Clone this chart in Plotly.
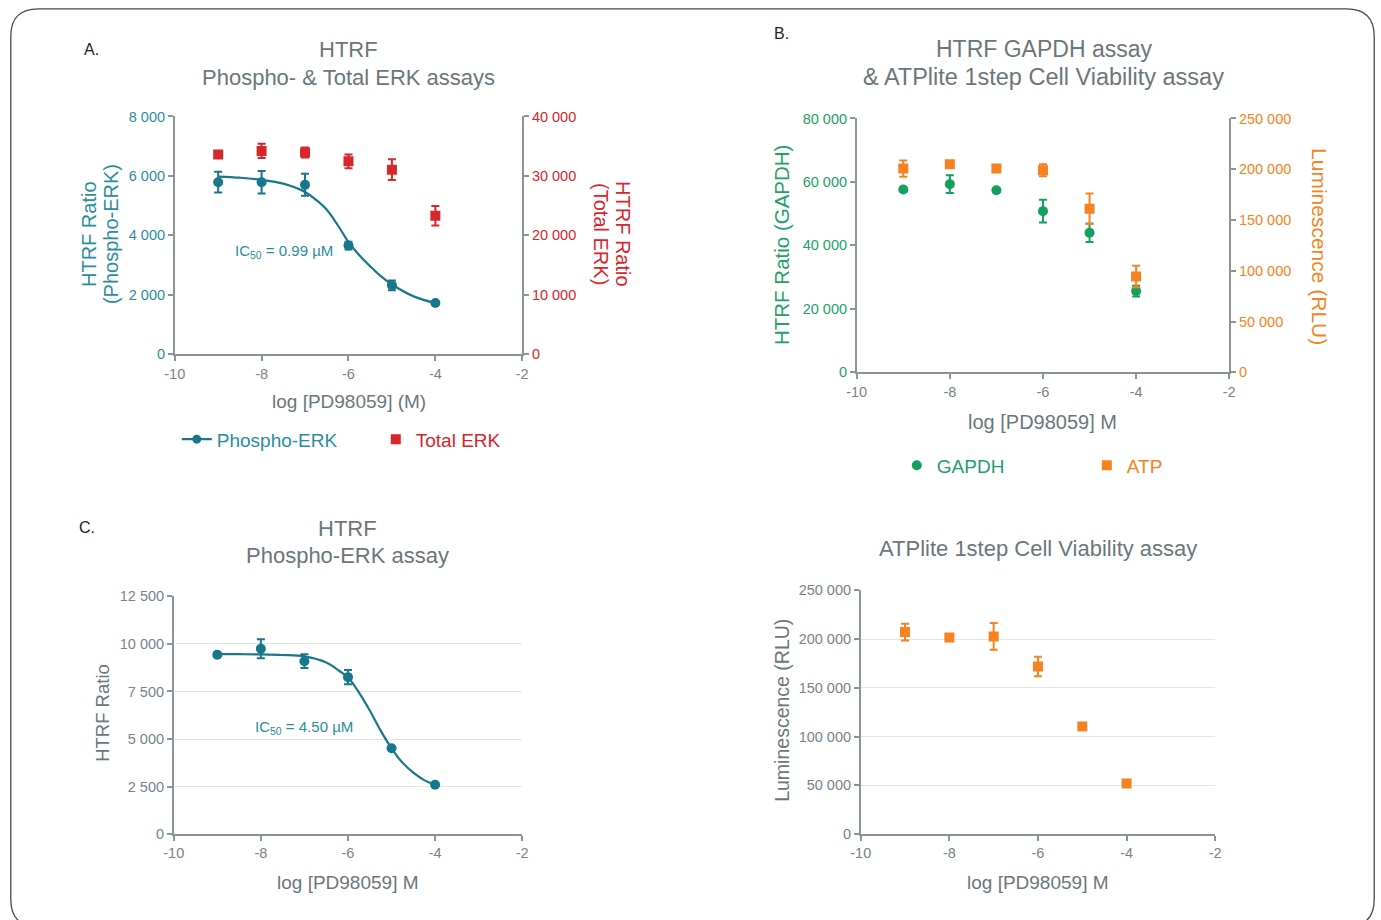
import plotly.graph_objects as go

W, H = 1381, 920

# ---------------- data ----------------
log_conc = [-9, -8, -7, -6, -5, -4]

# Panel A : Phospho-ERK (left axis) & Total ERK (right axis)
pERK_A = [5790, 5790, 5700, 3660, 2320, 1725]
pERK_A_err = [350, 380, 370, 130, 160, 0]
totalERK_A = [33600, 34200, 33950, 32450, 31050, 23300]
totalERK_A_err = [600, 1200, 850, 1150, 1750, 1650]
fitA_x = [-9, -8.5, -8, -7.5, -7, -6.75, -6.5, -6.25, -6, -5.75, -5.5, -5.25, -5, -4.5, -4]
fitA_y = [5980, 5940, 5870, 5740, 5460, 5200, 4860, 4350, 3780, 3330, 2960, 2620, 2350, 1950, 1725]

# Panel B : GAPDH (left axis) & ATP (right axis)
gapdh_B = [57600, 59300, 57400, 50800, 44000, 25600]
gapdh_B_err = [600, 2800, 600, 3600, 2900, 1700]
atp_B = [200700, 204900, 200700, 199000, 161200, 94400]
atp_B_err = [8000, 3000, 3000, 6000, 15000, 10500]

# Panel C : Phospho-ERK
pERK_C = [9430, 9740, 9090, 8250, 4510, 2600]
pERK_C_err = [0, 500, 360, 370, 0, 0]
fitC_x = [-9, -8.5, -8, -7.5, -7, -6.5, -6.25, -6, -5.75, -5.5, -5.25, -5, -4.75, -4.5, -4.25, -4]
fitC_y = [9460, 9455, 9445, 9415, 9340, 9020, 8660, 8230, 7450, 6500, 5440, 4510, 3760, 3230, 2840, 2600]

# Panel D : ATP
atp_D = [207200, 201700, 202700, 171900, 110300, 52000]
atp_D_err = [8600, 2000, 13700, 10000, 3000, 1500]

# ticks
x_ticks = [-10, -8, -6, -4, -2]
x_ticklabels = ['-10', '-8', '-6', '-4', '-2']
yA_ticks = [0, 2000, 4000, 6000, 8000]
yA_labels = ['0', '2 000', '4 000', '6 000', '8 000']
yA2_ticks = [0, 10000, 20000, 30000, 40000]
yA2_labels = ['0', '10 000', '20 000', '30 000', '40 000']
yB_ticks = [0, 20000, 40000, 60000, 80000]
yB_labels = ['0', '20 000', '40 000', '60 000', '80 000']
yB2_ticks = [0, 50000, 100000, 150000, 200000, 250000]
yB2_labels = ['0', '50 000', '100 000', '150 000', '200 000', '250 000']
yC_ticks = [0, 2500, 5000, 7500, 10000, 12500]
yC_labels = ['0', '2 500', '5 000', '7 500', '10 000', '12 500']
yD_ticks = [0, 50000, 100000, 150000, 200000, 250000]
yD_labels = ['0', '50 000', '100 000', '150 000', '200 000', '250 000']

# ---------------- style ----------------
MAIN = "Liberation Sans, Arial, sans-serif"
TICKSIZE = 14.5
TEAL = '#18778a'
TEAL_TXT = '#2a8d9e'
RED = '#d7262c'
GREEN = '#14a05e'
GREEN_TXT = '#22a06a'
ORANGE = '#f68220'
AX = '#8a9599'
TICKGRAY = '#78838a'
TITLEGRAY = '#6c767b'

# screen placement calibration (target picture pixel -> page pixel)
SX, BX, SY, BY = 0.987, 10.5, 0.983, 7.5


def PX(ix):
    return (ix - BX) / SX


def PY(iy):
    return (iy - BY) / SY


def fx(ix):
    return PX(ix) / W


def fy(iy):
    return 1 - PY(iy) / H


fig = go.Figure()

# ---- Panel A ----
fig.add_trace(go.Scatter(x=fitA_x, y=fitA_y, mode='lines', line=dict(color=TEAL, width=2.2, shape='spline'),
                         xaxis='x', yaxis='y', showlegend=False, hoverinfo='skip'))
fig.add_trace(go.Scatter(x=log_conc, y=pERK_A, mode='markers', marker=dict(color=TEAL, size=10, symbol='circle'),
                         error_y=dict(type='data', array=pERK_A_err, color=TEAL, thickness=2, width=4),
                         xaxis='x', yaxis='y', showlegend=False))
fig.add_trace(go.Scatter(x=[None], y=[None], mode='lines+markers', name='Phospho-ERK',
                         line=dict(color=TEAL, width=2.2), marker=dict(color=TEAL, size=9),
                         xaxis='x', yaxis='y', legend='legend'))
fig.add_trace(go.Scatter(x=log_conc, y=totalERK_A, mode='markers', name="<span style='color:%s'>Total ERK</span>" % RED,
                         marker=dict(color=RED, size=10, symbol='square'),
                         error_y=dict(type='data', array=totalERK_A_err, color=RED, thickness=2, width=4),
                         xaxis='x', yaxis='y2', legend='legend'))

# ---- Panel B ----
fig.add_trace(go.Scatter(x=log_conc, y=gapdh_B, mode='markers', name="<span style='color:%s'>GAPDH</span>" % GREEN_TXT,
                         marker=dict(color=GREEN, size=10, symbol='circle'),
                         error_y=dict(type='data', array=gapdh_B_err, color=GREEN, thickness=2, width=4),
                         xaxis='x3', yaxis='y3', legend='legend2'))
fig.add_trace(go.Scatter(x=log_conc, y=atp_B, mode='markers', name="<span style='color:%s'>ATP</span>" % ORANGE,
                         marker=dict(color=ORANGE, size=10, symbol='square'),
                         error_y=dict(type='data', array=atp_B_err, color=ORANGE, thickness=2, width=4),
                         xaxis='x3', yaxis='y4', legend='legend2'))

# ---- Panel C ----
fig.add_trace(go.Scatter(x=fitC_x, y=fitC_y, mode='lines', line=dict(color=TEAL, width=2.2, shape='spline'),
                         xaxis='x5', yaxis='y5', showlegend=False, hoverinfo='skip'))
fig.add_trace(go.Scatter(x=log_conc, y=pERK_C, mode='markers', marker=dict(color=TEAL, size=10, symbol='circle'),
                         error_y=dict(type='data', array=pERK_C_err, color=TEAL, thickness=2, width=4),
                         xaxis='x5', yaxis='y5', showlegend=False))

# ---- Panel D ----
fig.add_trace(go.Scatter(x=log_conc, y=atp_D, mode='markers', marker=dict(color=ORANGE, size=10, symbol='square'),
                         error_y=dict(type='data', array=atp_D_err, color=ORANGE, thickness=2, width=4),
                         xaxis='x6', yaxis='y6', showlegend=False))


def xaxis(ix0, ix1, anchor):
    return dict(domain=[fx(ix0), fx(ix1)], anchor=anchor, range=[-10, -2], tickmode='array',
                tickvals=x_ticks, ticktext=x_ticklabels, showline=True, linecolor=AX, linewidth=1.5,
                ticks='outside', ticklen=5, tickwidth=1.5, tickcolor=AX,
                tickfont=dict(family=MAIN, size=TICKSIZE, color=TICKGRAY),
                showgrid=False, zeroline=False)


def yaxis(iy0, iy1, anchor, rng, tv, tt, color, grid=False):
    return dict(domain=[fy(iy1), fy(iy0)], anchor=anchor, range=rng, tickmode='array', tickvals=tv, ticktext=tt,
                showline=True, linecolor=AX, linewidth=1.5, ticks='outside', ticklen=5, tickwidth=1.5,
                tickcolor=AX, tickfont=dict(family=MAIN, size=TICKSIZE, color=color),
                showgrid=grid, gridcolor='#e4e4e4', gridwidth=1.2, zeroline=False)


def yaxis_right(over, anchor, rng, tv, tt, color):
    return dict(overlaying=over, side='right', anchor=anchor, range=rng, tickmode='array',
                tickvals=tv, ticktext=tt, showline=True, linecolor=AX, linewidth=1.5,
                ticks='outside', ticklen=5, tickwidth=1.5, tickcolor=AX,
                tickfont=dict(family=MAIN, size=TICKSIZE, color=color), showgrid=False, zeroline=False)


LEG_TEXT_OFF = 41.5  # page px between legend x and the first entry's text

layout = dict(
    width=W, height=H, margin=dict(l=0, r=0, t=0, b=0),
    paper_bgcolor='white', plot_bgcolor='white',
    font=dict(family=MAIN, color=TITLEGRAY),
    xaxis=xaxis(175, 522, 'y'),
    yaxis=yaxis(116, 354, 'x', [0, 8000], yA_ticks, yA_labels, TEAL_TXT),
    yaxis2=yaxis_right('y', 'x', [0, 40000], yA2_ticks, yA2_labels, RED),
    xaxis3=xaxis(856, 1228, 'y3'),
    yaxis3=yaxis(118, 372, 'x3', [0, 80000], yB_ticks, yB_labels, GREEN_TXT),
    yaxis4=yaxis_right('y3', 'x3', [0, 250000], yB2_ticks, yB2_labels, ORANGE),
    xaxis5=xaxis(174, 522, 'y5'),
    yaxis5=yaxis(596, 834, 'x5', [0, 12500], yC_ticks, yC_labels, TICKGRAY, grid=True),
    xaxis6=xaxis(860, 1214, 'y6'),
    yaxis6=yaxis(590, 834, 'x6', [0, 250000], yD_ticks, yD_labels, TICKGRAY, grid=True),
    legend=dict(x=(PX(218) - LEG_TEXT_OFF) / W, y=fy(439), xanchor='left', yanchor='middle', orientation='h',
                font=dict(family=MAIN, size=19, color=TEAL_TXT), bgcolor='rgba(0,0,0,0)',
                entrywidthmode='pixels', entrywidth=154),
    legend2=dict(x=(PX(937) - LEG_TEXT_OFF) / W, y=fy(465), xanchor='left', yanchor='middle', orientation='h',
                 font=dict(family=MAIN, size=19, color=GREEN_TXT), bgcolor='rgba(0,0,0,0)',
                 entrywidthmode='pixels', entrywidth=145),
    showlegend=True,
)
fig.update_layout(**layout)


def ann(text, ix, iy, size=19, color=TITLEGRAY, angle=0):
    fig.add_annotation(text=text, x=fx(ix), y=fy(iy), xref='paper', yref='paper', showarrow=False,
                       xanchor='center', yanchor='middle', textangle=angle,
                       font=dict(family=MAIN, size=size, color=color))


# panel letters
ann('A.', 92, 49, size=16, color='#222222')
ann('B.', 781, 33, size=16, color='#222222')
ann('C.', 87, 527, size=16, color='#222222')

# Panel A texts
ann('HTRF', 349, 49, size=22)
ann('Phospho- &amp; Total ERK assays', 349, 77, size=22)
ann('HTRF Ratio', 90, 234, size=20, color=TEAL_TXT, angle=-90)
ann('(Phospho-ERK)', 112, 234, size=20, color=TEAL_TXT, angle=-90)
ann('HTRF Ratio', 622, 234, size=20, color=RED, angle=90)
ann('(Total ERK)', 600, 234, size=20, color=RED, angle=90)
ann('log [PD98059] (M)', 349, 401, size=19)
ann('IC<sub>50</sub> = 0.99 µM', 284, 251, size=15, color=TEAL_TXT)

# Panel B texts
ann('HTRF GAPDH assay', 1043, 49, size=23)
ann('&amp; ATPlite 1step Cell Viability assay', 1043, 77, size=23.5)
ann('HTRF Ratio (GAPDH)', 781, 245, size=20.5, color=GREEN_TXT, angle=-90)
ann('Luminescence (RLU)', 1318, 246, size=21, color=ORANGE, angle=90)
ann('log [PD98059] M', 1042, 422, size=20)

# Panel C texts
ann('HTRF', 348, 528, size=22)
ann('Phospho-ERK assay', 348, 555, size=22)
ann('HTRF Ratio', 103, 713, size=18.5, angle=-90)
ann('log [PD98059] M', 348, 882, size=19)
ann('IC<sub>50</sub> = 4.50 µM', 304, 727, size=15, color=TEAL_TXT)

# Panel D texts
ann('ATPlite 1step Cell Viability assay', 1037, 548, size=22)
ann('Luminescence (RLU)', 782, 710, size=19.5, angle=-90)
ann('log [PD98059] M', 1037, 882, size=19)

# rounded outer border (page pixels)
x0, x1, y0, y1, r = 0.8, 1380.2, 0.8, 935, 28


def P(px, py):
    return "%.5f,%.5f" % (px / W, 1 - py / H)


path = ("M " + P(x0 + r, y0) + " L " + P(x1 - r, y0) + " Q " + P(x1, y0) + " " + P(x1, y0 + r) +
        " L " + P(x1, y1 - r) + " Q " + P(x1, y1) + " " + P(x1 - r, y1) +
        " L " + P(x0 + r, y1) + " Q " + P(x0, y1) + " " + P(x0, y1 - r) +
        " L " + P(x0, y0 + r) + " Q " + P(x0, y0) + " " + P(x0 + r, y0) + " Z")
fig.add_shape(type='path', path=path, xref='paper', yref='paper', line=dict(color='#4a4a4a', width=1.3))

fig.write_html("out.html", config={'displayModeBar': False},
               post_script="document.body.style.margin='0px';document.body.style.overflow='hidden';")
